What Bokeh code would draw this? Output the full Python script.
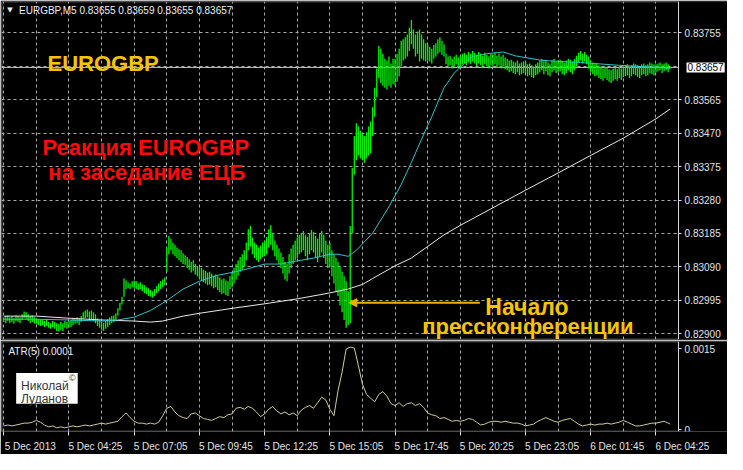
from bokeh.plotting import figure
from bokeh.layouts import column
from bokeh.models import (FixedTicker, Label, Arrow, NormalHead, BoxAnnotation, Span,
                          PrintfTickFormatter, Range1d)
from bokeh.embed import file_html
from bokeh.resources import INLINE

# ---------------- data (EURGBP, M5) ----------------
bar_high = [
    0.82947,0.82950,0.82952,0.82947,0.82950,0.82944,0.82952,0.82950,0.82947,0.82955,0.82963,0.82961,0.82955,0.82950,0.82952,0.82947,
    0.82944,0.82941,0.82939,0.82941,0.82936,0.82939,0.82933,0.82930,0.82936,0.82933,0.82930,0.82928,0.82933,0.82930,0.82936,0.82933,
    0.82936,0.82939,0.82944,0.82941,0.82947,0.82944,0.82950,0.82961,0.82966,0.82969,0.82963,0.82966,0.82961,0.82955,0.82944,0.82939,
    0.82933,0.82930,0.82936,0.82941,0.82947,0.82950,0.82952,0.82958,0.82972,0.82988,0.83005,0.83057,0.83051,0.83046,0.83043,0.83049,
    0.83051,0.83049,0.83043,0.83046,0.83040,0.83038,0.83032,0.83029,0.83024,0.83021,0.83027,0.83035,0.83043,0.83049,0.83054,0.83060,
    0.83145,0.83178,0.83170,0.83159,0.83153,0.83145,0.83140,0.83137,0.83129,0.83123,0.83118,0.83112,0.83104,0.83109,0.83098,0.83093,
    0.83090,0.83087,0.83082,0.83079,0.83074,0.83076,0.83071,0.83065,0.83068,0.83063,0.83060,0.83054,0.83057,0.83051,0.83049,0.83063,
    0.83076,0.83087,0.83098,0.83109,0.83118,0.83126,0.83137,0.83159,0.83197,0.83206,0.83173,0.83159,0.83153,0.83145,0.83151,0.83159,
    0.83164,0.83175,0.83197,0.83208,0.83186,0.83164,0.83153,0.83142,0.83131,0.83118,0.83104,0.83098,0.83126,0.83142,0.83153,0.83164,
    0.83173,0.83181,0.83186,0.83192,0.83181,0.83175,0.83186,0.83195,0.83189,0.83178,0.83170,0.83186,0.83192,0.83181,0.83164,0.83153,
    0.83159,0.83137,0.83126,0.83115,0.83104,0.83090,0.83076,0.83063,0.83049,0.83021,0.83206,0.83371,0.83462,0.83498,0.83489,0.83476,
    0.83467,0.83462,0.83473,0.83489,0.83503,0.83544,0.83599,0.83654,0.83718,0.83710,0.83696,0.83682,0.83677,0.83688,0.83668,0.83682,
    0.83682,0.83696,0.83710,0.83732,0.83737,0.83743,0.83751,0.83770,0.83792,0.83765,0.83751,0.83759,0.83765,0.83751,0.83737,0.83726,
    0.83723,0.83715,0.83710,0.83721,0.83726,0.83737,0.83743,0.83732,0.83723,0.83696,0.83688,0.83690,0.83682,0.83688,0.83693,0.83685,
    0.83690,0.83696,0.83699,0.83693,0.83701,0.83696,0.83704,0.83699,0.83693,0.83701,0.83696,0.83690,0.83699,0.83693,0.83688,0.83696,
    0.83693,0.83699,0.83690,0.83696,0.83688,0.83693,0.83685,0.83682,0.83677,0.83679,0.83674,0.83671,0.83677,0.83668,0.83671,0.83674,
    0.83671,0.83666,0.83668,0.83663,0.83660,0.83666,0.83671,0.83677,0.83682,0.83674,0.83679,0.83671,0.83666,0.83677,0.83682,0.83674,
    0.83677,0.83679,0.83674,0.83671,0.83677,0.83682,0.83679,0.83674,0.83682,0.83690,0.83699,0.83704,0.83696,0.83701,0.83693,0.83688,
    0.83677,0.83671,0.83666,0.83668,0.83663,0.83660,0.83654,0.83660,0.83657,0.83652,0.83649,0.83654,0.83657,0.83652,0.83660,0.83654,
    0.83660,0.83663,0.83666,0.83660,0.83663,0.83668,0.83666,0.83663,0.83660,0.83666,0.83668,0.83663,0.83666,0.83671,0.83668,0.83666,
    0.83666,0.83668,0.83671,0.83666,0.83668,0.83671,0.83666,0.83659,
]
bar_low = [
    0.82933,0.82930,0.82936,0.82930,0.82933,0.82928,0.82936,0.82933,0.82930,0.82939,0.82944,0.82941,0.82936,0.82930,0.82933,0.82928,
    0.82928,0.82925,0.82922,0.82925,0.82919,0.82922,0.82917,0.82914,0.82919,0.82914,0.82908,0.82906,0.82911,0.82908,0.82917,0.82914,
    0.82917,0.82919,0.82925,0.82928,0.82930,0.82925,0.82933,0.82941,0.82944,0.82947,0.82939,0.82941,0.82936,0.82930,0.82922,0.82917,
    0.82911,0.82908,0.82914,0.82919,0.82925,0.82930,0.82933,0.82939,0.82952,0.82966,0.82983,0.83005,0.83027,0.83029,0.83027,0.83032,
    0.83029,0.83027,0.83024,0.83027,0.83021,0.83016,0.83013,0.83007,0.83005,0.83002,0.83007,0.83016,0.83021,0.83027,0.83032,0.83038,
    0.83076,0.83126,0.83137,0.83126,0.83120,0.83115,0.83109,0.83104,0.83098,0.83096,0.83087,0.83082,0.83074,0.83079,0.83068,0.83063,
    0.83057,0.83051,0.83046,0.83043,0.83038,0.83040,0.83035,0.83029,0.83032,0.83024,0.83018,0.83013,0.83016,0.83010,0.83007,0.83027,
    0.83032,0.83043,0.83054,0.83065,0.83076,0.83082,0.83090,0.83109,0.83137,0.83148,0.83126,0.83115,0.83109,0.83104,0.83112,0.83118,
    0.83120,0.83126,0.83145,0.83153,0.83137,0.83120,0.83109,0.83098,0.83087,0.83071,0.83054,0.83049,0.83071,0.83087,0.83098,0.83109,
    0.83115,0.83126,0.83131,0.83137,0.83120,0.83109,0.83126,0.83137,0.83131,0.83115,0.83104,0.83120,0.83131,0.83115,0.83098,0.83087,
    0.83090,0.83063,0.83043,0.83021,0.83007,0.82980,0.82961,0.82939,0.82917,0.82925,0.82930,0.83186,0.83352,0.83393,0.83407,0.83398,
    0.83393,0.83385,0.83398,0.83407,0.83412,0.83462,0.83517,0.83572,0.83627,0.83613,0.83605,0.83599,0.83594,0.83605,0.83599,0.83610,
    0.83605,0.83616,0.83632,0.83660,0.83677,0.83682,0.83688,0.83704,0.83723,0.83710,0.83688,0.83696,0.83674,0.83682,0.83677,0.83674,
    0.83677,0.83674,0.83668,0.83682,0.83688,0.83696,0.83701,0.83693,0.83688,0.83666,0.83660,0.83663,0.83654,0.83660,0.83666,0.83657,
    0.83660,0.83666,0.83668,0.83663,0.83671,0.83666,0.83674,0.83668,0.83660,0.83668,0.83663,0.83657,0.83666,0.83660,0.83654,0.83663,
    0.83660,0.83666,0.83657,0.83663,0.83654,0.83660,0.83652,0.83649,0.83643,0.83646,0.83641,0.83638,0.83643,0.83635,0.83638,0.83641,
    0.83641,0.83632,0.83635,0.83630,0.83627,0.83635,0.83638,0.83643,0.83649,0.83638,0.83646,0.83635,0.83632,0.83643,0.83649,0.83641,
    0.83643,0.83646,0.83638,0.83635,0.83641,0.83649,0.83643,0.83638,0.83649,0.83660,0.83671,0.83677,0.83668,0.83674,0.83666,0.83654,
    0.83643,0.83638,0.83632,0.83635,0.83627,0.83624,0.83619,0.83627,0.83621,0.83616,0.83613,0.83619,0.83624,0.83619,0.83627,0.83621,
    0.83630,0.83632,0.83635,0.83627,0.83632,0.83638,0.83635,0.83630,0.83627,0.83635,0.83638,0.83632,0.83635,0.83641,0.83638,0.83635,
    0.83643,0.83646,0.83649,0.83641,0.83646,0.83649,0.83643,0.83655,
]
bar_index = list(range(len(bar_high)))

# fast moving average (cyan) read at selected bars
fast_bar = [0,16,32,48,56,64,72,80,88,96,104,112,120,128,136,144,152,160,164,169,
            173,181,189,195,200,205,210,216,221,226,230,237,245,251,264,283,302,322,327]
fast_ma = [0.82941,0.82941,0.82939,0.82936,0.82939,0.82947,0.82966,0.82994,0.83027,0.83049,
           0.83065,0.83074,0.83085,0.83098,0.83098,0.83107,0.83115,0.83126,0.83126,0.83120,
           0.83137,0.83186,0.83261,0.83324,0.83387,0.83453,0.83517,0.83599,0.83641,0.83668,
           0.83688,0.83696,0.83701,0.83690,0.83677,0.83671,0.83663,0.83657,0.83654]

# slow moving average (white)
slow_bar = [0,16,32,48,64,72,78,88,96,112,128,144,160,169,176,181,192,200,208,216,224,
            240,256,272,288,304,320,327]
slow_ma = [0.82950,0.82950,0.82944,0.82939,0.82936,0.82933,0.82936,0.82950,0.82958,0.82972,
           0.82985,0.82999,0.83016,0.83027,0.83040,0.83057,0.83093,0.83115,0.83148,0.83181,
           0.83208,0.83258,0.83308,0.83357,0.83407,0.83456,0.83511,0.83539]

# ATR(5)
atr_bar = list(range(0, 327, 2)) + [327]
atr_val = [
    0.000069,0.000086,0.000069,0.000086,0.000103,0.000121,0.000121,0.000138,0.000172,0.000138,
    0.000086,0.000052,0.000069,0.000034,0.000052,0.000034,0.000052,0.000069,0.000052,0.000069,
    0.000086,0.000069,0.000086,0.000103,0.000121,0.000103,0.000121,0.000138,0.000155,0.000241,
    0.000310,0.000224,0.000155,0.000121,0.000121,0.000103,0.000121,0.000103,0.000138,0.000259,
    0.000397,0.000431,0.000328,0.000259,0.000224,0.000207,0.000293,0.000310,0.000259,0.000207,
    0.000190,0.000172,0.000207,0.000241,0.000224,0.000276,0.000293,0.000397,0.000414,0.000379,
    0.000431,0.000397,0.000328,0.000241,0.000293,0.000379,0.000431,0.000345,0.000293,0.000328,
    0.000276,0.000310,0.000259,0.000362,0.000414,0.000448,0.000397,0.000500,0.000603,0.000552,
    0.000379,0.000259,0.000724,0.001069,0.001500,0.001534,0.001517,0.001190,0.000845,0.000655,
    0.000586,0.000517,0.000655,0.000707,0.000621,0.000483,0.000448,0.000500,0.000431,0.000483,
    0.000500,0.000448,0.000483,0.000414,0.000310,0.000276,0.000259,0.000207,0.000224,0.000190,
    0.000155,0.000172,0.000155,0.000172,0.000207,0.000190,0.000138,0.000086,0.000103,0.000138,
    0.000155,0.000155,0.000138,0.000155,0.000138,0.000121,0.000121,0.000103,0.000069,0.000086,
    0.000103,0.000155,0.000190,0.000224,0.000190,0.000155,0.000138,0.000172,0.000190,0.000207,
    0.000155,0.000103,0.000069,0.000086,0.000103,0.000086,0.000103,0.000103,0.000121,0.000103,
    0.000121,0.000138,0.000172,0.000138,0.000103,0.000069,0.000069,0.000086,0.000103,0.000121,
    0.000121,0.000138,0.000155,0.000121,0.000103,
]

price_ticks = [0.82900, 0.82995, 0.83090, 0.83185, 0.83280, 0.83375, 0.83470, 0.83565, 0.83755]
price_grid = [0.82900, 0.82995, 0.83090, 0.83185, 0.83280, 0.83375, 0.83470, 0.83565, 0.83660, 0.83755]
last_price = 0.83657
time_ticks = [0, 32, 64, 96, 128, 160, 192, 224, 256, 288, 320]
time_labels = ["5 Dec 2013", "5 Dec 04:25", "5 Dec 07:05", "5 Dec 09:45", "5 Dec 12:25",
               "5 Dec 15:05", "5 Dec 17:45", "5 Dec 20:25", "5 Dec 23:05", "6 Dec 01:45", "6 Dec 04:25"]
grid_bars = list(range(0, 321, 16))
atr_ticks = [0.0, 0.0015]

# ---------------- styling ----------------
FONT = "Liberation Sans"
AXC = "#e4e4e4"
FRAMEC = "#d8d8d8"
GRIDC = "#a9a9a9"
GOLD = "#f7c400"
W = 727
X_LEFT, X_EDGE, X_RIGHT = -1.1, 331.1, 355.1   # chart frame edge sits at X_EDGE, price scale beyond it
LABEL_SHIFT = 13                                # time labels start at their tick (left aligned look)
x_rng = Range1d(X_LEFT, X_RIGHT)
Y0, Y1 = 0.828835, 0.838445

p = figure(width=W, height=340, x_range=x_rng, y_range=Range1d(Y0, Y1),
           output_backend="svg", toolbar_location=None, y_axis_location="right",
           x_axis_location=None, background_fill_color="black", border_fill_color="black",
           min_border_left=1, min_border_right=0, min_border_top=1, min_border_bottom=1,
           outline_line_color=None)
p.xgrid.ticker = FixedTicker(ticks=grid_bars)
p.ygrid.ticker = FixedTicker(ticks=price_grid)
for g in (p.xgrid, p.ygrid):
    g.grid_line_color = GRIDC
    g.grid_line_dash = "3 3"
    g.grid_line_width = 1

ax = p.yaxis[0]
ax.fixed_location = X_EDGE
ax.ticker = FixedTicker(ticks=price_ticks)
ax.formatter = PrintfTickFormatter(format="%.5f")
ax.major_label_text_color = AXC
ax.major_label_text_font = FONT
ax.major_label_text_font_size = "10px"
ax.major_tick_out = 3
ax.major_tick_in = 0
ax.minor_tick_out = 0
ax.minor_tick_in = 0
ax.major_tick_line_color = AXC
ax.axis_line_color = FRAMEC
ax.major_label_standoff = 3

# bid line, then black cover of the price-scale strip (hides grid there)
p.add_layout(Span(location=last_price, dimension="width", line_color="#bdbdbd", line_width=1,
                  level="underlay"))
p.add_layout(BoxAnnotation(left=X_EDGE, fill_color="black", fill_alpha=1.0, line_color=None,
                           level="underlay"))

# bars
p.segment(x0=bar_index, y0=bar_low, x1=bar_index, y1=bar_high, line_color="#00f400", line_width=1.3)
# moving averages
p.line(slow_bar, slow_ma, line_color="#e8e8e8", line_width=1)
p.line(fast_bar, fast_ma, line_color="#2ec4cc", line_width=1)

# frame of the chart window
p.add_layout(BoxAnnotation(left=-0.85, right=X_EDGE, bottom=0.82885, top=0.83843,
                           fill_alpha=0.0, line_color=FRAMEC, line_width=1))

# price box on axis
p.add_layout(Label(x=335.0, y=last_price, text="0.83657", text_baseline="middle",
                   text_font=FONT, text_font_size="10px", text_color="black",
                   background_fill_color="white", padding=1))

# header
p.add_layout(Label(x=3.0, y=0.838197, text="\u25bc", text_align="center", text_baseline="middle",
                   text_font="DejaVu Sans", text_font_size="7px", text_color="#f0f0f0"))
p.add_layout(Label(x=7.5, y=0.838197, text="EURGBP,M5  0.83655 0.83659 0.83655 0.83657",
                   text_baseline="middle", text_font=FONT, text_font_size="10px",
                   text_color="#f0f0f0"))

# annotations
p.add_layout(Label(x=21.5, y=0.836683, text="EUROGBP", text_font=FONT, text_font_size="22px",
                   text_font_style="bold", text_color=GOLD, text_baseline="alphabetic"))
p.add_layout(Label(x=69.7, y=0.834287, text="Реакция EUROGBP", text_font=FONT,
                   text_font_size="22px", text_font_style="bold", text_color="#ff0a0a",
                   text_align="center", text_baseline="alphabetic"))
p.add_layout(Label(x=70.2, y=0.833571, text="на заседание ЕЦБ", text_font=FONT,
                   text_font_size="22px", text_font_style="bold", text_color="#ff0a0a",
                   text_align="center", text_baseline="alphabetic"))
p.add_layout(Label(x=256.7, y=0.829750, text="Начало", text_font=FONT,
                   text_font_size="23px", text_font_style="bold", text_color=GOLD,
                   text_align="center", text_baseline="alphabetic"))
p.add_layout(Label(x=257.2, y=0.829200, text="прессконференции", text_font=FONT,
                   text_font_size="22px", text_font_style="bold", text_color=GOLD,
                   text_align="center", text_baseline="alphabetic"))
p.add_layout(Arrow(x_start=233.6, y_start=0.829880, x_end=169.3, y_end=0.829880,
                   line_color="#e6b400", line_width=2,
                   end=NormalHead(size=8, fill_color="#e6b400", line_color="#e6b400")))

# ---------------- ATR panel ----------------
A0, A1 = -0.0000345, 0.001638
q = figure(width=W, height=114, x_range=x_rng, y_range=Range1d(A0, A1),
           output_backend="svg", toolbar_location=None, y_axis_location="right",
           background_fill_color="black", border_fill_color="black",
           min_border_left=1, min_border_right=0, min_border_top=1, min_border_bottom=20,
           outline_line_color=None)
q.xgrid.ticker = FixedTicker(ticks=grid_bars)
q.xgrid.grid_line_color = GRIDC
q.xgrid.grid_line_dash = "3 3"
q.ygrid.visible = False

label_pos = [t + LABEL_SHIFT for t in time_ticks]
xa = q.xaxis[0]
xa.ticker = FixedTicker(ticks=label_pos, minor_ticks=time_ticks)
xa.major_label_overrides = {pos: s for pos, s in zip(label_pos, time_labels)}
xa.major_label_text_color = AXC
xa.major_label_text_font = FONT
xa.major_label_text_font_size = "10px"
xa.major_tick_out = 0
xa.major_tick_in = 0
xa.minor_tick_out = 4
xa.minor_tick_in = 0
xa.minor_tick_line_color = AXC
xa.axis_line_color = None
xa.major_label_standoff = 5

ya = q.yaxis[0]
ya.fixed_location = X_EDGE
ya.ticker = FixedTicker(ticks=atr_ticks)
ya.major_label_overrides = {0.0: "0", 0.0015: "0.0015"}
ya.major_label_text_color = AXC
ya.major_label_text_font = FONT
ya.major_label_text_font_size = "10px"
ya.major_tick_out = 3
ya.major_tick_in = 0
ya.minor_tick_out = 0
ya.minor_tick_in = 0
ya.major_tick_line_color = AXC
ya.axis_line_color = FRAMEC
ya.major_label_standoff = 3

q.line(atr_bar, atr_val, line_color="#cdcd98", line_width=1)

q.add_layout(BoxAnnotation(left=-0.85, right=X_EDGE, bottom=-0.0000255, top=0.001629,
                           fill_alpha=0.0, line_color=FRAMEC, line_width=1))
q.add_layout(Label(x=2.3, y=0.001448, text="ATR(5) 0.0001", text_baseline="middle",
                   text_font=FONT, text_font_size="10px", text_color="#f0f0f0"))
q.add_layout(BoxAnnotation(left=6.1, right=36.3, top=0.001052, bottom=0.000483,
                           fill_color="white", fill_alpha=1.0, line_color=None))
q.add_layout(Label(x=8.5, y=0.000810, text="Николай", text_font=FONT, text_font_size="12px",
                   text_color="#333333", text_baseline="alphabetic"))
q.add_layout(Label(x=8.5, y=0.000569, text="Луданов", text_font=FONT, text_font_size="12px",
                   text_color="#333333", text_baseline="alphabetic"))
q.add_layout(Label(x=33.7, y=0.000965, text="\u00a9", text_font=FONT, text_font_size="9px",
                   text_color="#333333", text_align="center", text_baseline="middle"))

layout = column(p, q, spacing=0)
open("out.html", "w").write(file_html(layout, INLINE))
